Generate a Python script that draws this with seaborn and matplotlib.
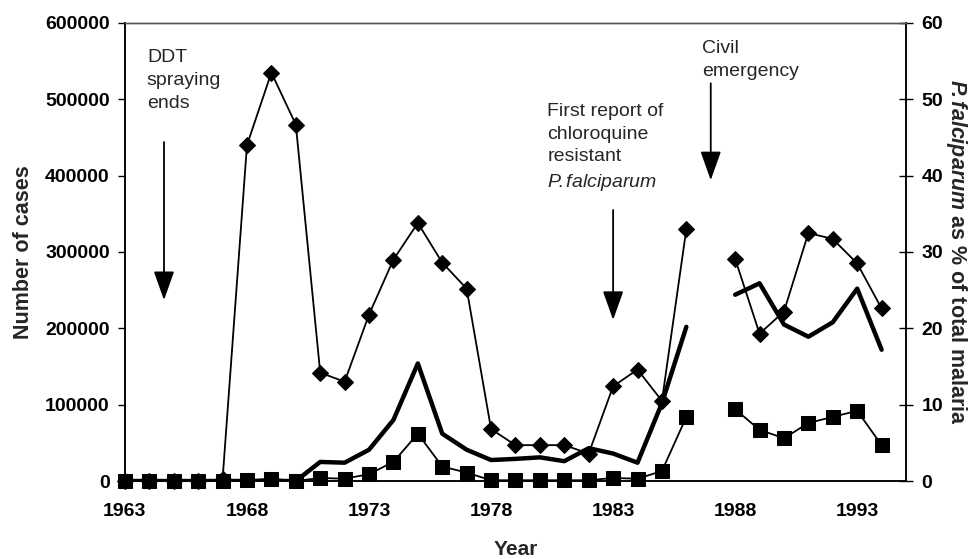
import numpy as np
import pandas as pd
import seaborn as sns
import matplotlib.pyplot as plt

# Data (1987 missing)
years = list(range(1963, 1995))
total_cases = [0, 0, 0, 0, 2000, 440000, 535000, 467000, 142000, 130000,
               218000, 290000, 338000, 286000, 252000, 68000, 47000, 47000,
               47000, 36000, 124000, 146000, 105000, 330000, np.nan, 291000,
               193000, 222000, 325000, 317000, 285000, 226000]
falciparum_cases = [0, 0, 0, 0, 0, 1000, 3000, 0, 4000, 3000,
                    9000, 25000, 62000, 19000, 11000, 1000, 1000, 1000,
                    1000, 1000, 4000, 3000, 13000, 84000, np.nan, 94000,
                    67000, 56000, 76000, 84000, 92000, 47000]
falciparum_pct = [0, 0, 0, 0, 0, 0, 0, 0, 2.5, 2.4,
                  4.1, 8.0, 15.4, 6.2, 4.1, 2.75, 2.9, 3.1,
                  2.6, 4.3, 3.6, 2.4, 10.2, 20.2, np.nan, 24.4,
                  25.9, 20.5, 18.9, 20.8, 25.2, 17.2]
year_ticks = [1963, 1968, 1973, 1978, 1983, 1988, 1993]
left_ticks = [0, 100000, 200000, 300000, 400000, 500000, 600000]
right_ticks = [0, 10, 20, 30, 40, 50, 60]

df = pd.DataFrame({"year": years, "total": total_cases,
                   "falc": falciparum_cases, "pct": falciparum_pct})
df["seg"] = (df["year"] > 1987).astype(int)

sns.set_style("white")
plt.rcParams["font.family"] = ["Liberation Sans", "DejaVu Sans"]
plt.rcParams["mathtext.fontset"] = "custom"
plt.rcParams["mathtext.it"] = "Liberation Sans:italic"
plt.rcParams["mathtext.bfit"] = "Liberation Sans:italic:bold"
plt.rcParams["mathtext.rm"] = "Liberation Sans"

fig = plt.figure(figsize=(9.76, 5.59), dpi=100)
ax = fig.add_axes([0.128, 0.1395, 0.8003, 0.8194])
ax2 = ax.twinx()

d = df.dropna(subset=["total"])
sns.lineplot(data=d, x="year", y="total", units="seg", estimator=None, ax=ax,
             color="black", lw=1.3, marker="D", markersize=8, markeredgecolor="black",
             legend=False, zorder=2, clip_on=False)
d = df.dropna(subset=["falc"])
sns.lineplot(data=d, x="year", y="falc", units="seg", estimator=None, ax=ax,
             color="black", lw=1.3, marker="s", markersize=10, markeredgecolor="black",
             legend=False, zorder=3, clip_on=False)
d = df.dropna(subset=["pct"])
sns.lineplot(data=d, x="year", y="pct", units="seg", estimator=None, ax=ax2,
             color="black", lw=3.2, legend=False)

ax.set_xlim(1963, 1995)
ax.set_ylim(0, 600000)
ax2.set_ylim(0, 60)
ax.set_xticks(year_ticks)
ax.set_yticks(left_ticks)
ax2.set_yticks(right_ticks)

tick_font = dict(fontsize=14, fontweight="bold")
ax.set_xticklabels([str(y) for y in year_ticks], **tick_font)
ax.set_yticklabels([str(v) for v in left_ticks], **tick_font)
ax2.set_yticklabels([str(v) for v in right_ticks], **tick_font)

ax.tick_params(axis="x", direction="out", length=5, width=1, pad=11, colors="black")
ax.tick_params(axis="y", direction="out", length=5, width=1, pad=6, colors="black")
ax2.tick_params(axis="y", direction="inout", length=10, width=1, pad=6, colors="black")

for a in (ax, ax2):
    for s in ("left", "right", "bottom"):
        a.spines[s].set_color("black")
        a.spines[s].set_linewidth(1.1)
    a.spines["top"].set_color("#555555")
    a.spines["top"].set_linewidth(1.0)

ax.set_xlabel("Year", fontsize=15, fontweight="bold", labelpad=14)
ax.set_ylabel("Number of cases", fontsize=15.5, fontweight="bold", labelpad=8)
ax2.set_ylabel(r"$\mathbfit{P\!.falciparum}$ as % of total malaria", fontsize=15.5,
               fontweight="bold", rotation=270, labelpad=19)

# Annotations
txt = dict(fontsize=14, va="top", ha="left", linespacing=1.45)
arrow = dict(arrowstyle="-|>,head_length=0.9,head_width=0.32", color="black",
             lw=1.3, mutation_scale=20, shrinkA=0, shrinkB=0)
ax.text(1963.9, 565500, "DDT\nspraying\nends", **txt)
ax.annotate("", xy=(1964.6, 237000), xytext=(1964.6, 444000), arrowprops=arrow)
ax.text(1980.3, 495500,
        "First report of\nchloroquine\nresistant\n$\\mathit{P\\!.falciparum}$", **txt)
ax.annotate("", xy=(1983, 211000), xytext=(1983, 355000), arrowprops=arrow)
ax.text(1986.65, 577500, "Civil\nemergency", **txt)
ax.annotate("", xy=(1987, 394000), xytext=(1987, 521000), arrowprops=arrow)

fig.savefig("out.png", dpi=100)
